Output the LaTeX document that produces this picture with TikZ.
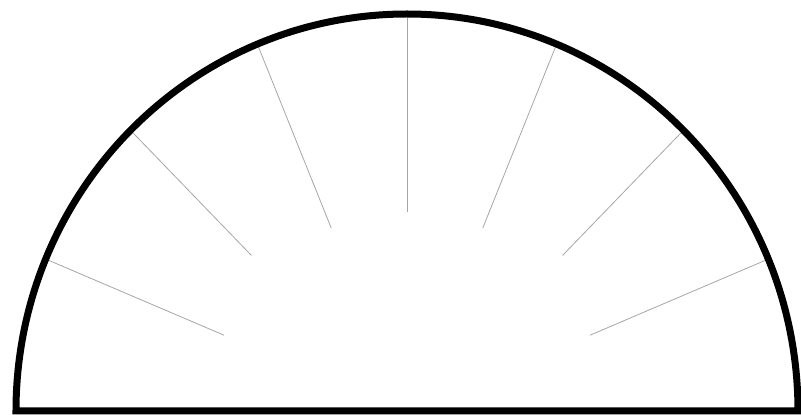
\documentclass[tikz,border=0pt]{standalone}
\begin{document}
\begin{tikzpicture}[x=1pt, y=1pt,
    rim/.style={line width=7pt, line join=miter},
    spoke/.style={gray!70, line width=0.8pt}]
  \useasboundingbox (-407,-4) rectangle (394,411);
  \coordinate (o) at (0,0);
  % radial marks
  \foreach \a/\r in {22.5/198, 45/220, 67.5/198, 90/199, 112.5/198, 135/220, 157.5/198}
    \draw[spoke] ([shift={(\a:\r)}]o) -- ([shift={(\a:391 and 397)}]o);
  % half disc outline
  \draw[rim] (391,0) arc[start angle=0, end angle=180, x radius=391, y radius=397] -- cycle;
\end{tikzpicture}
\end{document}
